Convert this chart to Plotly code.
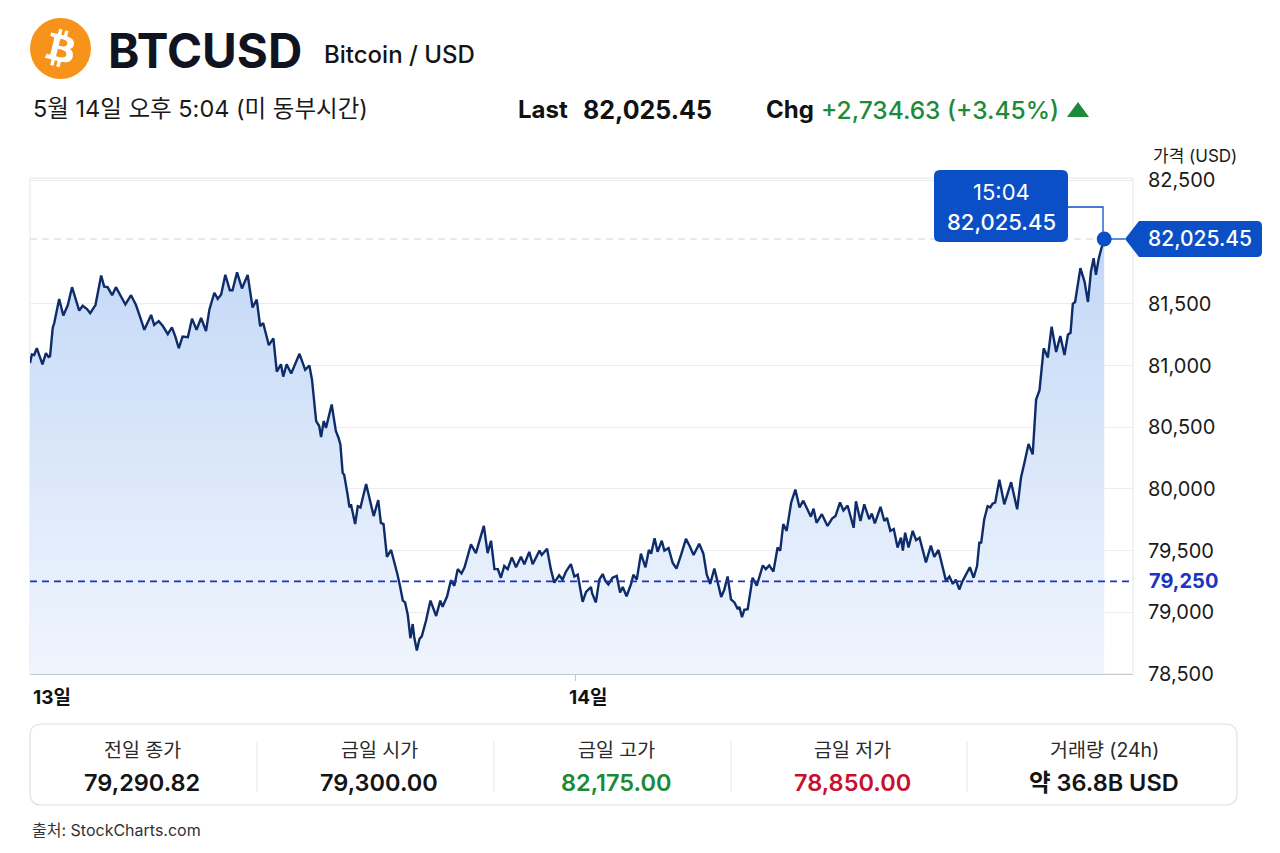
import base64
import pandas as pd
import plotly.graph_objects as go

# ---------------- data ----------------
minutes = [
    0, 5, 11, 18, 26, 33, 42, 49, 53, 60, 64, 77, 88, 100, 111, 122, 130, 139, 150, 159,
    173, 188, 196, 205, 217, 227, 238, 252, 267, 280, 293, 302, 320, 328, 340, 351, 364, 375, 384, 393,
    403, 417, 428, 440, 452, 465, 474, 487, 496, 505, 516, 528, 535, 547, 560, 575, 588, 599, 608, 616,
    631, 643, 652, 663, 669, 678, 690, 701, 712, 727, 738, 745,
    756, 764, 769, 776, 782, 797, 808, 815, 820, 826, 830, 839, 844, 848, 852, 859, 866, 873, 888, 897,
    908, 920, 927, 934, 943, 954, 964, 971, 978, 985, 991, 998, 1005, 1011, 1015, 1022, 1029, 1035, 1046, 1058,
    1073, 1084, 1090, 1102, 1112, 1121, 1130, 1140, 1148, 1165, 1178, 1199, 1209, 1218, 1227, 1236, 1244, 1253, 1262, 1273,
    1284, 1297, 1306, 1319, 1328, 1337, 1346, 1352, 1366, 1376, 1385, 1398, 1407, 1416, 1429, 1438, 1447, 1460, 1469, 1482,
    1485, 1495, 1504, 1513, 1520, 1528, 1539, 1550, 1559, 1566, 1576, 1588, 1594, 1603, 1614, 1626, 1635, 1641, 1650, 1658,
    1669, 1676, 1687, 1698, 1708, 1720, 1733, 1744, 1753, 1768, 1779, 1788, 1797, 1808, 1817, 1826, 1834, 1843, 1852, 1861,
    1870, 1874, 1881, 1887, 1896, 1905, 1909, 1920, 1936, 1944, 1953, 1964, 1975, 1982, 1990, 1999, 2011, 2022, 2033, 2043,
    2052, 2063, 2070, 2078, 2092, 2107, 2119, 2128, 2140, 2149, 2160,
    2176, 2182, 2194, 2204, 2217, 2224, 2232, 2247, 2257, 2264, 2273, 2282, 2292, 2301, 2306, 2312, 2321, 2332, 2341, 2350,
    2367, 2380, 2389, 2400, 2409, 2420, 2429, 2438, 2446, 2455, 2464, 2473, 2483, 2493, 2502, 2508, 2513, 2521, 2530, 2537,
    2543, 2550, 2561, 2574, 2592, 2608, 2618, 2627, 2638, 2649, 2658, 2667, 2678, 2689, 2699, 2711, 2722, 2733, 2742, 2749,
    2755, 2761, 2775, 2786, 2795, 2803, 2810, 2816, 2823, 2830, 2838,
]
prices = [
    81020, 81090, 81085, 81140, 81070, 81010, 81100, 81070, 81075, 81305, 81345, 81540, 81405, 81490, 81635, 81515, 81445, 81485, 81460, 81425,
    81490, 81730, 81640, 81635, 81570, 81635, 81570, 81495, 81570, 81490, 81375, 81290, 81410, 81330, 81360, 81320, 81255, 81310, 81235, 81140,
    81235, 81230, 81380, 81290, 81385, 81280, 81455, 81590, 81540, 81575, 81735, 81610, 81610, 81755, 81625, 81735, 81470, 81535, 81320, 81345,
    81165, 81220, 80950, 81010, 80910, 81010, 80935, 81015, 81095, 80965, 81000, 80885,
    80550, 80510, 80420, 80550, 80495, 80685, 80470, 80415, 80360, 80130, 80115, 79955, 79850, 79875, 79820, 79715, 79860, 79850, 80040, 79930,
    79780, 79910, 79725, 79715, 79450, 79505, 79400, 79305, 79205, 79095, 79080, 78980, 78790, 78905, 78800, 78690, 78785, 78805, 78930, 79095,
    78970, 79095, 79045, 79130, 79260, 79215, 79350, 79315, 79365, 79550, 79480, 79700, 79480, 79580, 79350, 79350, 79280, 79375, 79350, 79445,
    79365, 79450, 79390, 79490, 79390, 79440, 79500, 79465, 79515, 79350, 79240, 79300, 79265, 79330, 79390, 79290, 79305, 79085, 79165, 79205,
    79155, 79080, 79265, 79310, 79255, 79225, 79280, 79295, 79160, 79205, 79130, 79230, 79305, 79265, 79475, 79365, 79505, 79475, 79600, 79490,
    79580, 79500, 79520, 79400, 79355, 79465, 79595, 79530, 79465, 79555, 79475, 79305, 79230, 79355, 79230, 79125, 79180, 79290, 79105, 79080,
    79025, 79045, 78960, 79020, 79025, 79205, 79280, 79215, 79380, 79350, 79380, 79330, 79525, 79500, 79715, 79660, 79890, 79995, 79850, 79905,
    79850, 79775, 79840, 79725, 79795, 79700, 79760, 79780, 79890, 79825, 79865,
    79685, 79900, 79740, 79875, 79755, 79800, 79720, 79855, 79740, 79765, 79660, 79675, 79525, 79605, 79500, 79645, 79525, 79660, 79585, 79605,
    79405, 79540, 79450, 79505, 79390, 79255, 79290, 79230, 79265, 79185, 79255, 79305, 79365, 79280, 79375, 79565, 79565, 79755, 79860, 79850,
    79880, 79890, 80075, 79875, 80055, 79835, 80090, 80210, 80365, 80280, 80725, 80800, 81140, 81065, 81315, 81110, 81240, 81085, 81250, 81265,
    81500, 81515, 81790, 81680, 81515, 81765, 81870, 81735, 81860, 81945, 82025.45,
]
start_time = "2025-05-13 00:00"
axis_end_minutes = 2914
day_ticks = ["2025-05-13 00:00", "2025-05-14 00:00"]
day_labels = ["13일", "14일"]

y_ticks = [78500, 79000, 79500, 80000, 80500, 81000, 81500, 82500]
y_range = [78500, 82520]
ref_level = 79250

symbol = "BTCUSD"
pair_name = "Bitcoin / USD"
timestamp_text = "5월 14일 오후 5:04 (미 동부시간)"
last_time_text = "15:04"
change_abs = 2734.63
change_pct = 3.45

stat_labels = ["전일 종가", "금일 시가", "금일 고가", "금일 저가", "거래량 (24h)"]
stat_values = ["79,290.82", "79,300.00", "82,175.00", "78,850.00", "약 36.8B USD"]
stat_colors = ["#141414", "#141414", "#1b8a36", "#c8102e", "#141414"]
source_text = "출처: StockCharts.com"

# ---------------- helpers ----------------
FONT = "Inter, 'Noto Sans CJK KR', sans-serif"
L, R, T, B = 30, 1133, 178, 674
W, H = R - L, B - T
BLUE = "#0b4fc6"


def px(x):
    return (x - L) / W


def py(y):
    return (B - y) / H


def P(x, y):
    return f"{px(x):.5f},{py(y):.5f}"


def rrect(x0, y0, x1, y1, r):
    return (f"M{P(x0 + r, y0)} L{P(x1 - r, y0)} Q{P(x1, y0)} {P(x1, y0 + r)} "
            f"L{P(x1, y1 - r)} Q{P(x1, y1)} {P(x1 - r, y1)} L{P(x0 + r, y1)} "
            f"Q{P(x0, y1)} {P(x0, y1 - r)} L{P(x0, y0 + r)} Q{P(x0, y0)} {P(x0 + r, y0)} Z")


def fmt(v):
    return f"{v:,.0f}"


t0 = pd.Timestamp(start_time)
times = t0 + pd.to_timedelta(minutes, unit="min")
last_t, last_p = times[-1], prices[-1]

fig = go.Figure()
fig.add_trace(go.Scatter(
    x=times, y=prices, mode="lines",
    line=dict(color="#0d2c69", width=2.4),
    fill="tozeroy",
    fillgradient=dict(type="vertical",
                      colorscale=[[0, "rgba(238,244,253,0.9)"], [1, "rgba(194,215,246,1)"]],
                      start=y_range[0], stop=last_p),
    hoverinfo="skip", showlegend=False,
))
fig.add_trace(go.Scatter(
    x=[last_t], y=[last_p], mode="markers",
    marker=dict(size=15, color=BLUE), showlegend=False, hoverinfo="skip",
))

shapes = []
annotations = []


def label(text, x, y, size, color="#111", weight=400, xanchor="left", family=FONT):
    annotations.append(dict(text=text, x=px(x), y=py(y), xref="paper", yref="paper", xanchor=xanchor,
                            yanchor="middle", showarrow=False,
                            font=dict(family=family, size=size, color=color, weight=weight)))


# plot frame
shapes.append(dict(type="rect", xref="paper", yref="paper", x0=0, x1=1, y0=0, y1=1,
                   line=dict(color="#e2e5ea", width=1), layer="below"))
# reference level (blue dashed)
shapes.append(dict(type="line", xref="paper", yref="y", x0=0, x1=1, y0=ref_level, y1=ref_level,
                   line=dict(color="#1b35c0", width=1.7, dash="7px,5px")))
# last price guide (gray dashed)
shapes.append(dict(type="line", xref="x", yref="y", x0=times[0], x1=last_t, y0=last_p, y1=last_p,
                   line=dict(color="#cfd4db", width=1, dash="7px,5px"), layer="below"))

# tooltip box + connector
shapes.append(dict(type="path", xref="paper", yref="paper", path=rrect(934, 170, 1068, 242, 6),
                   fillcolor=BLUE, line=dict(width=0)))
shapes.append(dict(type="path", xref="paper", yref="paper",
                   path=f"M{P(1068, 207)} L{P(1103, 207)} L{P(1103, 232)}",
                   line=dict(color=BLUE, width=1.3)))
label(last_time_text, 1001, 192, 22, "white", 400, "center")
label(f"{last_p:,.2f}", 1001, 222, 22, "white", 500, "center")

# price tag on axis
shapes.append(dict(type="path", xref="paper", yref="paper",
                   path=f"M{P(1110, 239)} L{P(1125, 239)}", line=dict(color=BLUE, width=1.3)))
shapes.append(dict(type="path", xref="paper", yref="paper",
                   path=(f"M{P(1125, 239)} L{P(1139, 221)} L{P(1257, 221)} Q{P(1262, 221)} {P(1262, 226)} "
                         f"L{P(1262, 252)} Q{P(1262, 257)} {P(1257, 257)} L{P(1139, 257)} Z"),
                   fillcolor=BLUE, line=dict(width=0)))
label(f"{last_p:,.2f}", 1200, 239, 21, "white", 500, "center")

# reference level label
annotations.append(dict(text=f"<b>{fmt(ref_level)}</b>", x=px(1147), y=ref_level, xref="paper", yref="y",
                        xanchor="left", yanchor="middle", showarrow=False,
                        font=dict(family=FONT, size=20, color="#1b35c0")))
# axis title
label("가격 (USD)", 1151, 156, 17, "#1a1a1a")
# day labels
for d, lab, shift in zip(day_ticks, day_labels, [1, -8]):
    annotations.append(dict(text=f"<b>{lab}</b>", x=pd.Timestamp(d), y=py(697), xref="x", yref="paper",
                            xanchor="left", yanchor="middle", xshift=shift, showarrow=False,
                            font=dict(family=FONT, size=19, color="#111")))

# ---- header ----
logo_svg = (
    "<svg xmlns='http://www.w3.org/2000/svg' viewBox='0 0 64 64'>"
    "<circle cx='32' cy='32' r='32' fill='#F7931A'/>"
    "<path fill='#FFFFFF' d='M46.11 27.441c.636-4.258-2.606-6.547-7.039-8.074l1.438-5.768-3.511-.875-1.4 5.616"
    "c-.923-.23-1.871-.447-2.813-.662l1.41-5.653-3.509-.875-1.439 5.766c-.764-.174-1.514-.346-2.242-.527"
    "l.004-.018-4.842-1.209-.934 3.75s2.605.597 2.55.634c1.422.355 1.679 1.296 1.636 2.042l-1.638 6.571"
    "c.098.025.225.061.365.117l-.371-.092-2.297 9.205c-.174.432-.615 1.08-1.609.834.035.051-2.552-.637-2.552-.637"
    "l-1.743 4.019 4.569 1.139c.85.213 1.683.436 2.503.646l-1.453 5.834 3.507.875 1.439-5.772"
    "c.958.26 1.888.5 2.798.726l-1.434 5.745 3.511.875 1.453-5.823c5.987 1.133 10.489.676 12.384-4.739"
    "1.527-4.36-.076-6.875-3.226-8.515 2.294-.529 4.022-2.038 4.483-5.155z"
    "M38.087 38.69c-1.086 4.36-8.426 2.003-10.806 1.412l1.928-7.729c2.38.594 10.012 1.77 8.878 6.317z"
    "m1.086-11.312c-.99 3.966-7.1 1.951-9.082 1.457l1.748-7.01c1.982.494 8.365 1.416 7.334 5.553z'/>"
    "</svg>"
)
logo_src = "data:image/svg+xml;base64," + base64.b64encode(logo_svg.encode()).decode()
images = [dict(source=logo_src, xref="paper", yref="paper", x=px(30), y=py(18),
               sizex=61 / W, sizey=61 / H, xanchor="left", yanchor="top", sizing="stretch", layer="above")]

label(symbol, 106, 50, 47.5, "#0f1420", 700)
label(pair_name, 322, 55, 24, "#141414", 500)
label(timestamp_text, 31, 109, 23.5, "#1a1a1a", 400)
label("Last", 516, 110, 24, "#111", 700)
label(f"{last_p:,.2f}", 581, 110, 25, "#111", 700)
label("Chg", 764, 110, 24, "#111", 700)
label(f"+{change_abs:,.2f} (+{change_pct:.2f}%)", 819, 110, 24.5, "#1d8a3a", 500)
shapes.append(dict(type="path", xref="paper", yref="paper",
                   path=f"M{P(1067, 117)} L{P(1089, 117)} L{P(1078, 102)} Z",
                   fillcolor="#1d8a3a", line=dict(width=0)))

# ---- stats box ----
shapes.append(dict(type="path", xref="paper", yref="paper", path=rrect(30, 724, 1237, 805, 12),
                   fillcolor="white", line=dict(color="#dde1e6", width=1.2)))
for xd in [257, 494, 731, 967]:
    shapes.append(dict(type="line", xref="paper", yref="paper", x0=px(xd), x1=px(xd), y0=py(741), y1=py(792),
                       line=dict(color="#e3e6ea", width=1)))
centers = [142, 379, 616, 852, 1104]
for cx, lab, val, col in zip(centers, stat_labels, stat_values, stat_colors):
    label(lab, cx, 750, 19.5, "#2a2a2a", 400, "center")
    label(val, cx, 782, 23.5, col, 600, "center")

label(source_text, 30, 830, 16, "#333", 400)

fig.update_layout(
    width=1280, height=853,
    margin=dict(l=L, r=1280 - R, t=T, b=853 - B, pad=0),
    paper_bgcolor="white", plot_bgcolor="white",
    shapes=shapes, annotations=annotations, images=images,
    showlegend=False,
    xaxis=dict(type="date", range=[t0, t0 + pd.Timedelta(minutes=axis_end_minutes)],
               tickvals=[pd.Timestamp(day_ticks[1])], ticktext=[""], showticklabels=False,
               ticks="outside", ticklen=6, tickcolor="#c5cad1",
               showgrid=False, zeroline=False, showline=True, linecolor="#c5cad1", linewidth=1.2,
               fixedrange=True),
    yaxis=dict(side="right", range=y_range, tickvals=y_ticks, ticktext=[fmt(v) for v in y_ticks],
               tickfont=dict(family=FONT, size=20, color="#1a1a1a"), ticks="", ticklabelstandoff=14,
               showgrid=True, gridcolor="#eaecef", gridwidth=1, zeroline=False, showline=False,
               fixedrange=True),
)

fig.write_html("out.html", config={"displayModeBar": False},
               post_script="document.body.style.margin='0';")
